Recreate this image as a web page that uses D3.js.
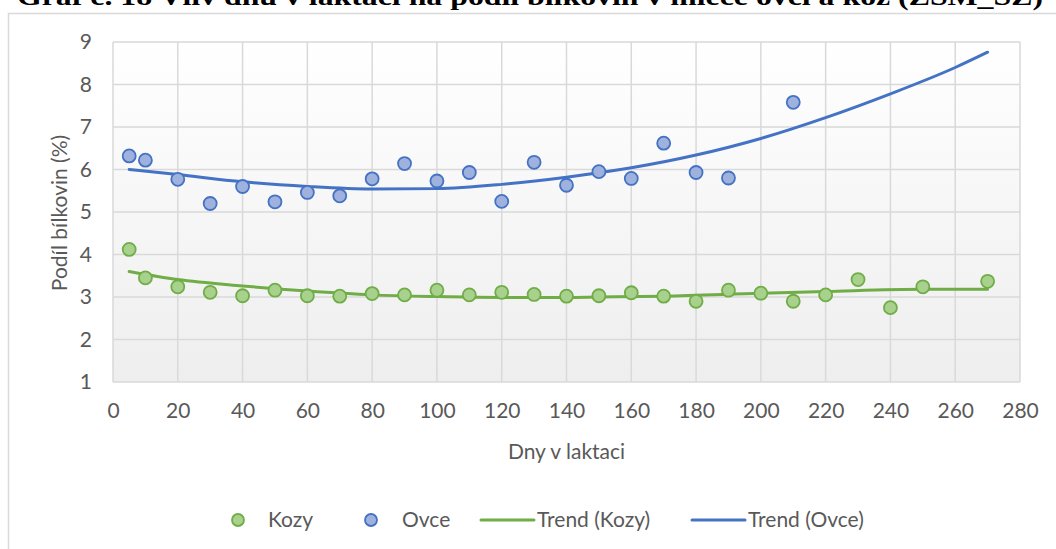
<!DOCTYPE html>
<html>
<head>
<meta charset="utf-8">
<script src="https://cdnjs.cloudflare.com/ajax/libs/d3/7.8.5/d3.min.js"></script>
<style>
  body { margin: 0; background: #fff; overflow: hidden; }
  text { font-family: Lato, "Noto Sans", sans-serif; fill: #595959; }
</style>
</head>
<body>
<div id="chart"></div>
<script>
// values
var titleText = "Graf č. 18 Vliv dnů v laktaci na podíl bílkovin v mléce ovcí a koz (ZSM_SZ)";

var kozyDays = [5, 10, 20, 30, 40, 50, 60, 70, 80, 90, 100, 110, 120, 130, 140, 150, 160, 170, 180, 190, 200, 210, 220, 230, 240, 250, 270];
var kozyVals = [4.12, 3.45, 3.24, 3.11, 3.03, 3.16, 3.03, 3.02, 3.08, 3.05, 3.16, 3.05, 3.11, 3.06, 3.02, 3.03, 3.10, 3.02, 2.90, 3.16, 3.09, 2.90, 3.05, 3.41, 2.75, 3.24, 3.37];

var ovceDays = [5, 10, 20, 30, 40, 50, 60, 70, 80, 90, 100, 110, 120, 130, 140, 150, 160, 170, 180, 190, 210];
var ovceVals = [6.32, 6.22, 5.77, 5.20, 5.60, 5.24, 5.46, 5.38, 5.78, 6.14, 5.73, 5.93, 5.25, 6.17, 5.63, 5.95, 5.79, 6.62, 5.93, 5.80, 7.58];

// trend lines as drawn in the reference
var trendKozyDays = [5, 20, 40, 60, 80, 100, 120, 140, 150, 170, 200, 220, 250, 270];
var trendKozyVals = [3.60, 3.41, 3.26, 3.14, 3.05, 3.01, 2.99, 2.99, 3.00, 3.02, 3.09, 3.13, 3.18, 3.18];

var trendOvceDays = [5, 20, 40, 60, 80, 100, 120, 140, 160, 180, 200, 220, 240, 260, 270];
var trendOvceVals = [6.00, 5.88, 5.71, 5.60, 5.54, 5.55, 5.65, 5.82, 6.04, 6.34, 6.73, 7.22, 7.78, 8.40, 8.76];

var xTicks = d3.range(0, 281, 20);
var yTicks = d3.range(1, 10, 1);

var W = 1056, H = 549;
var fs = "21px";
var svg = d3.select("#chart").append("svg").attr("width", W).attr("height", H);

// title (cut off at the top in the reference)
svg.append("text")
  .attr("x", 17).attr("y", 5)
  .attr("textLength", 1026).attr("lengthAdjust", "spacingAndGlyphs")
  .style("font-family", "'Liberation Serif', 'Times New Roman', serif")
  .style("font-weight", "bold").style("font-size", "25px").style("fill", "#000")
  .text(titleText);

// chart frame
svg.append("rect")
  .attr("x", 8.5).attr("y", 13.5).attr("width", 1060).attr("height", 560)
  .attr("fill", "#fff").attr("stroke", "#d9d9d9").attr("stroke-width", 1.5);

var x = d3.scaleLinear().domain([0, 280]).range([113, 1020]);
var y = d3.scaleLinear().domain([1, 9]).range([382, 42]);

var defs = svg.append("defs");
var grad = defs.append("linearGradient").attr("id", "bg").attr("x1", 0).attr("y1", 0).attr("x2", 0).attr("y2", 1);
grad.append("stop").attr("offset", "0%").attr("stop-color", "#ffffff");
grad.append("stop").attr("offset", "100%").attr("stop-color", "#eeeeee");

svg.append("rect")
  .attr("x", x(0)).attr("y", y(9))
  .attr("width", x(280) - x(0)).attr("height", y(1) - y(9))
  .attr("fill", "url(#bg)");

// grid
var grid = svg.append("g").attr("stroke", "#d9d9d9").attr("stroke-width", 1.5);
grid.selectAll(".vx").data(xTicks).enter().append("line")
  .attr("x1", d => x(d)).attr("x2", d => x(d))
  .attr("y1", y(1)).attr("y2", y(9));
grid.selectAll(".hy").data(yTicks).enter().append("line")
  .attr("x1", x(0)).attr("x2", x(280))
  .attr("y1", d => y(d)).attr("y2", d => y(d));

// axes
var xAxis = svg.append("g").attr("transform", `translate(0,${y(1)})`)
  .call(d3.axisBottom(x).tickValues(xTicks).tickSize(0).tickPadding(21));
var yAxis = svg.append("g").attr("transform", `translate(${x(0)},0)`)
  .call(d3.axisLeft(y).tickValues(yTicks).tickSize(0).tickPadding(21));
[xAxis, yAxis].forEach(function(a) {
  a.select(".domain").remove();
  a.selectAll("text").style("font-size", fs).style("fill", "#595959")
    .style("font-family", "Lato, 'Noto Sans', sans-serif");
});

svg.append("text")
  .attr("x", (x(0) + x(280)) / 2).attr("y", 459)
  .attr("text-anchor", "middle").style("font-size", fs)
  .text("Dny v laktaci");

svg.append("text")
  .attr("transform", "translate(67,213) rotate(-90)")
  .attr("text-anchor", "middle").style("font-size", fs)
  .text("Podíl bílkovin (%)");

// trend lines
var line = d3.line().x(d => x(d[0])).y(d => y(d[1])).curve(d3.curveMonotoneX);
svg.append("path")
  .datum(d3.zip(trendOvceDays, trendOvceVals))
  .attr("d", line).attr("fill", "none")
  .attr("stroke", "#4472c4").attr("stroke-width", 3).attr("stroke-linecap", "round");
svg.append("path")
  .datum(d3.zip(trendKozyDays, trendKozyVals))
  .attr("d", line).attr("fill", "none")
  .attr("stroke", "#70ad47").attr("stroke-width", 3).attr("stroke-linecap", "round");

// points
svg.append("g").selectAll("circle")
  .data(d3.zip(ovceDays, ovceVals)).enter().append("circle")
  .attr("cx", d => x(d[0])).attr("cy", d => y(d[1])).attr("r", 6.5)
  .attr("fill", "#9fb1dd").attr("stroke", "#4472c4").attr("stroke-width", 1.8);
svg.append("g").selectAll("circle")
  .data(d3.zip(kozyDays, kozyVals)).enter().append("circle")
  .attr("cx", d => x(d[0])).attr("cy", d => y(d[1])).attr("r", 6.5)
  .attr("fill", "#a9d18e").attr("stroke", "#70ad47").attr("stroke-width", 1.8);

// legend
var ly = 520;
var leg = svg.append("g");
leg.append("circle").attr("cx", 238).attr("cy", ly).attr("r", 6)
  .attr("fill", "#a9d18e").attr("stroke", "#70ad47").attr("stroke-width", 1.8);
leg.append("text").attr("x", 268).attr("y", ly + 7).style("font-size", fs).text("Kozy");
leg.append("circle").attr("cx", 371).attr("cy", ly).attr("r", 6)
  .attr("fill", "#9fb1dd").attr("stroke", "#4472c4").attr("stroke-width", 1.8);
leg.append("text").attr("x", 402).attr("y", ly + 7).style("font-size", fs).text("Ovce");
leg.append("line").attr("x1", 481).attr("x2", 534).attr("y1", ly).attr("y2", ly)
  .attr("stroke", "#70ad47").attr("stroke-width", 3).attr("stroke-linecap", "round");
leg.append("text").attr("x", 537).attr("y", ly + 7).style("font-size", fs).text("Trend (Kozy)");
leg.append("line").attr("x1", 692).attr("x2", 745).attr("y1", ly).attr("y2", ly)
  .attr("stroke", "#4472c4").attr("stroke-width", 3).attr("stroke-linecap", "round");
leg.append("text").attr("x", 748).attr("y", ly + 7).style("font-size", fs).text("Trend (Ovce)");
</script>
</body>
</html>
